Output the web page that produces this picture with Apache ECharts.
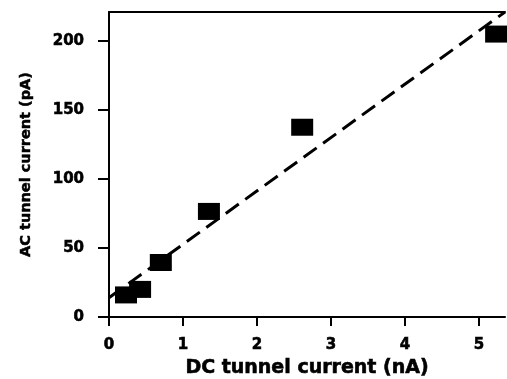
<!DOCTYPE html>
<html>
<head>
<meta charset="utf-8">
<script src="https://cdn.jsdelivr.net/npm/echarts@6/dist/echarts.min.js"></script>
<style>html,body{margin:0;padding:0;background:#fff}#c{width:507px;height:379px}</style>
</head>
<body>
<div id="c"></div>
<script>
var dcCurrent = [0.23, 0.42, 0.70, 1.35, 2.61, 5.23];
var acCurrent = [16, 20, 39.5, 76.5, 137.5, 205];
var fitX = [0, 5.35];
var fitY = [14, 221];
var xTicks = [0, 1, 2, 3, 4, 5];
var yTicks = [0, 50, 100, 150, 200];

var FONT = 'DejaVu Sans';
var labelStyle = {fontFamily: FONT, fontWeight: 'bold', fontSize: 15, color: '#000',
  textBorderColor: '#000', textBorderWidth: 0.6};
var chart = echarts.init(document.getElementById('c'));
chart.setOption({
  backgroundColor: '#fff',
  animation: false,
  grid: {left: 109, right: 2, top: 12, bottom: 62, outerBoundsMode: 'none', containLabel: false},
  xAxis: [{
    type: 'value', min: 0, max: 5.35,
    name: 'DC tunnel current (nA)', nameLocation: 'middle', nameGap: 42,
    nameTextStyle: {fontFamily: FONT, fontWeight: 'bold', fontSize: 19, color: '#000',
      textBorderColor: '#000', textBorderWidth: 0.6},
    axisLine: {show: true, lineStyle: {color: '#000', width: 2}},
    axisTick: {show: true, length: 9, customValues: xTicks, lineStyle: {color: '#000', width: 2}},
    axisLabel: Object.assign({margin: 21, customValues: xTicks}, labelStyle),
    splitLine: {show: false}
  }, {
    type: 'value', position: 'top', min: 0, max: 5.35,
    axisLine: {show: true, onZero: false, lineStyle: {color: '#000', width: 2}},
    axisTick: {show: false}, axisLabel: {show: false}, splitLine: {show: false}
  }],
  yAxis: {
    type: 'value', min: 0, max: 221,
    name: 'AC tunnel current (pA)', nameLocation: 'middle', nameGap: 75, nameRotate: 90,
    nameTextStyle: {fontFamily: FONT, fontWeight: 'bold', fontSize: 14.5, color: '#000',
      textBorderColor: '#000', textBorderWidth: 0.5},
    axisLine: {show: true, lineStyle: {color: '#000', width: 2}},
    axisTick: {show: true, length: 11, customValues: yTicks, lineStyle: {color: '#000', width: 2}},
    axisLabel: Object.assign({margin: 25, customValues: yTicks}, labelStyle),
    splitLine: {show: false}
  },
  series: [{
    type: 'line',
    data: fitX.map(function (x, i) { return [x, fitY[i]]; }),
    showSymbol: false, symbol: 'none',
    lineStyle: {color: '#000', width: 3, type: [16, 8]},
    z: 2
  }, {
    type: 'scatter',
    data: dcCurrent.map(function (x, i) { return [x, acCurrent[i]]; }),
    symbol: 'rect', symbolSize: [22, 17],
    itemStyle: {color: '#000', opacity: 1},
    z: 3
  }]
});
</script>
</body>
</html>
